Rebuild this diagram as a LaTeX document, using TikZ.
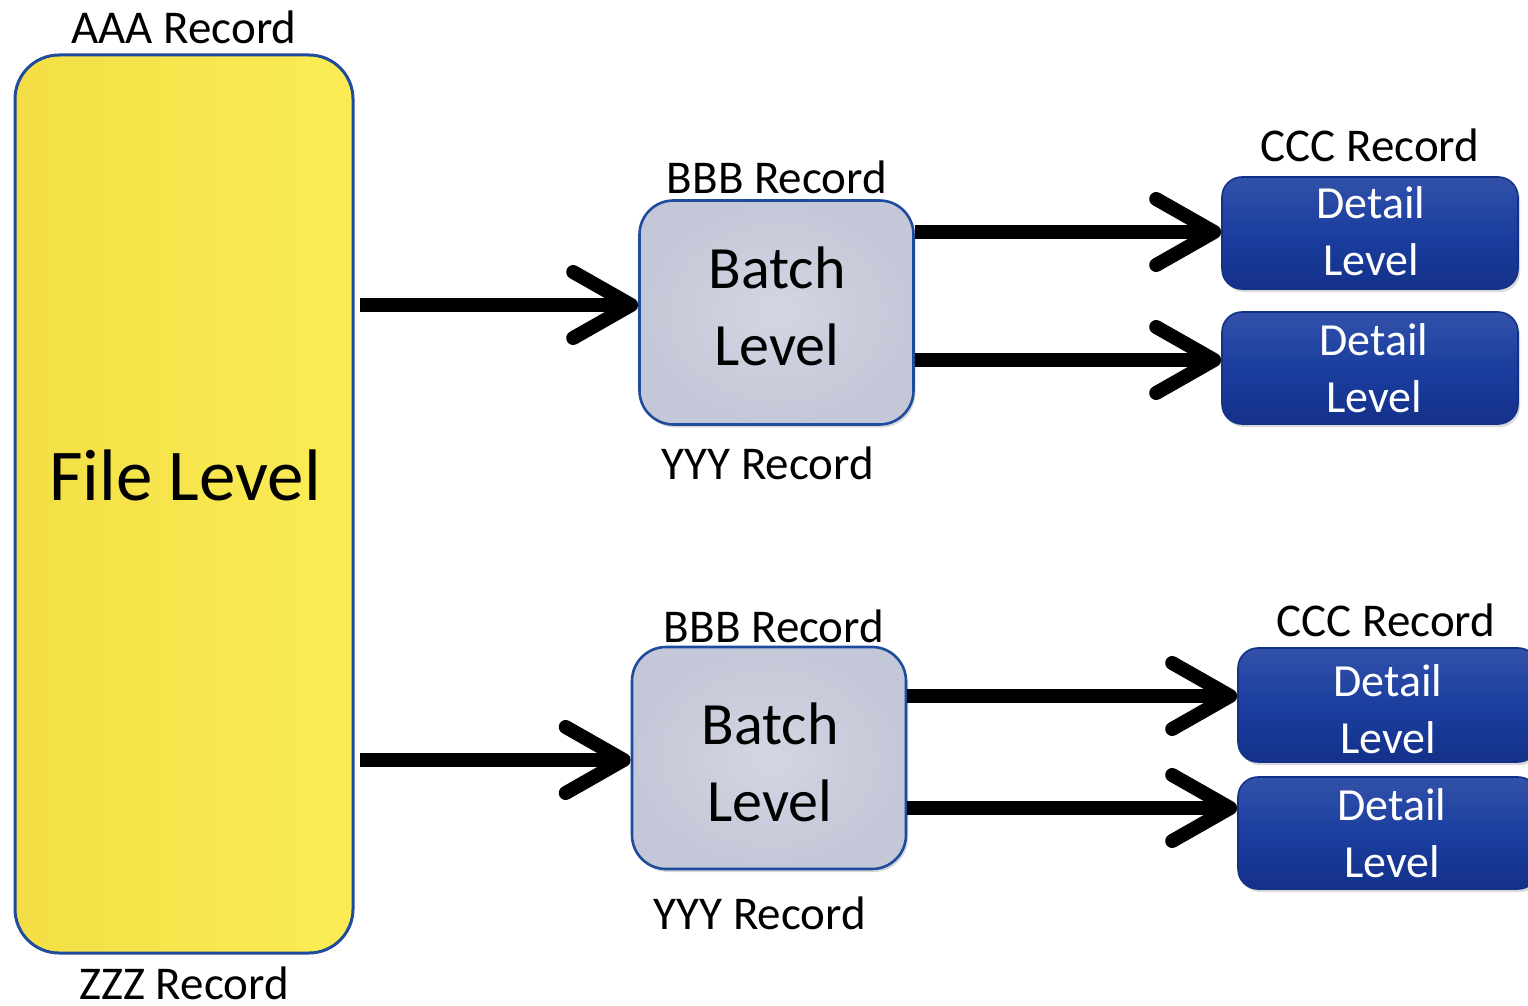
\documentclass[tikz,border=0pt]{standalone}
\usepackage{fontspec}
\setmainfont{Carlito}
\usetikzlibrary{arrows.meta,shadows}
\definecolor{fileY}{HTML}{F3DF45}
\definecolor{fileYl}{HTML}{FBEC55}
\definecolor{edgeB}{HTML}{1F4B9C}
\definecolor{batchG}{HTML}{C3C7D7}
\definecolor{batchL}{HTML}{D3D6E2}
\definecolor{detB}{HTML}{1B3E9F}
\definecolor{detD}{HTML}{14318A}
\tikzset{
  filebox/.style={draw=edgeB, line width=1.5pt, rounded corners=22pt,
    left color=fileY, right color=fileYl, shading angle=90,
    minimum width=169pt, minimum height=449pt},
  filetext/.style={font=\fontsize{36.5}{40}\selectfont, text=black, inner sep=0pt},
  batchbox/.style={draw=edgeB, line width=1.3pt, rounded corners=17pt,
    inner color=batchL, outer color=batchG,
    drop shadow={shadow xshift=1pt, shadow yshift=-1.5pt, opacity=0.3},
    minimum width=137pt, minimum height=112pt},
  batchtext/.style={align=center, inner sep=0pt,
    font=\fontsize{30}{38.5}\selectfont, text=black},
  detbox/.style={draw=detD, line width=0.8pt, rounded corners=10pt,
    top color=detB!90!white, bottom color=detD, middle color=detB,
    drop shadow={shadow xshift=1pt, shadow yshift=-1.5pt, opacity=0.3},
    minimum width=148pt, minimum height=56pt},
  dettext/.style={align=center, inner sep=0pt,
    font=\fontsize{23}{28.5}\selectfont, text=white},
  reclabel/.style={font=\fontsize{23.5}{26}\selectfont, text=black, inner sep=0pt},
  flow/.style={line width=7pt, black,
    -{Straight Barb[length=29pt, width=33pt, round]}}
}
\begin{document}
\begin{tikzpicture}[x=0.5pt, y=-0.5pt]
\useasboundingbox (0,0) rectangle (1528,1006);
\begin{scope}
\clip (0,0) rectangle (1528,1006);
% file level
\node[filebox] (file) at (184,504) {};
\node[filetext] (filet) at (185,475) {File Level};
\node[reclabel] (aaa) at (184,27) {AAA Record};
\node[reclabel] (zzz) at (184,983) {ZZZ Record};
% batch 1
\node[batchbox] (b1) at (776.5,312.5) {};
\node[batchtext] (b1t) at (777,306) {Batch\\Level};
\node[reclabel] (bbb1) at (777,177) {BBB Record};
\node[reclabel] (yyy1) at (768,463) {YYY Record};
% batch 2
\node[batchbox, minimum height=111pt] (b2) at (769,758) {};
\node[batchtext] (b2t) at (770,762) {Batch\\Level};
\node[reclabel] (bbb2) at (774,626) {BBB Record};
\node[reclabel] (yyy2) at (760,913) {YYY Record};
% details 1
\node[reclabel] (ccc1) at (1370,145) {CCC Record};
\node[detbox] (d1) at (1370,233) {};
\node[dettext] (d1t) at (1371,231) {Detail\\Level};
\node[detbox] (d2) at (1370,368) {};
\node[dettext] (d2t) at (1374,368) {Detail\\Level};
% details 2
\node[reclabel] (ccc2) at (1386,620) {CCC Record};
\node[detbox, minimum width=150pt, minimum height=57pt] (d3) at (1388,705) {};
\node[dettext] (d3t) at (1388,709) {Detail\\Level};
\node[detbox, minimum width=150pt] (d4) at (1388,833) {};
\node[dettext] (d4t) at (1392,833) {Detail\\Level};
% connectors
\coordinate (s1) at (360,305);
\coordinate (s2) at (360,760);
\draw[flow] (s1) -- (b1.west |- s1);
\draw[flow] (s2) -- (b2.west |- s2);
\draw[flow] (b1.east |- 0,232) -- (d1.west |- 0,232);
\draw[flow] (b1.east |- 0,360) -- (d2.west |- 0,360);
\draw[flow] (b2.east |- 0,696) -- (d3.west |- 0,696);
\draw[flow] (b2.east |- 0,808) -- (d4.west |- 0,808);
\end{scope}
\end{tikzpicture}
\end{document}
